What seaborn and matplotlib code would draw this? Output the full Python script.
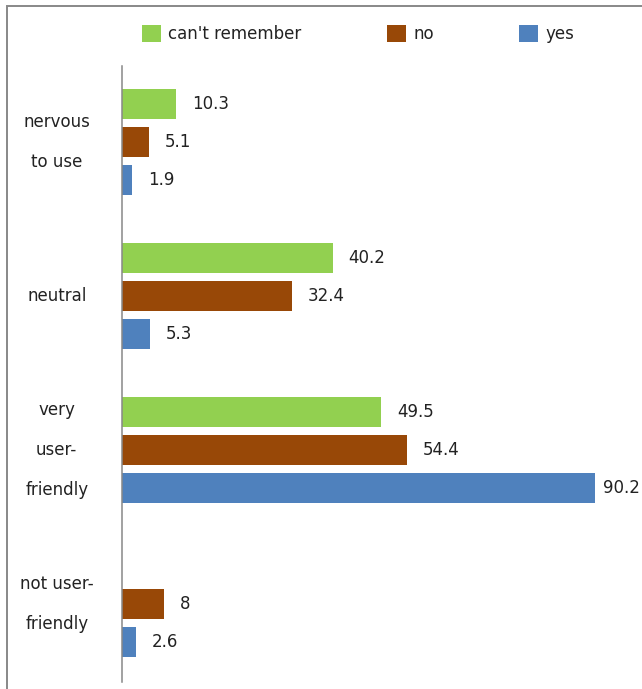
import numpy as np
import pandas as pd
import matplotlib
matplotlib.use("Agg")
import matplotlib.pyplot as plt
import seaborn as sns
from matplotlib.patches import Rectangle

categories = ["nervous\nto use", "neutral", "very\nuser-\nfriendly", "not user-\nfriendly"]
series = ["can't remember", "no", "yes"]
cant_remember = [10.3, 40.2, 49.5, np.nan]
no_vals = [5.1, 32.4, 54.4, 8]
yes_vals = [1.9, 5.3, 90.2, 2.6]
colors = ["#92D050", "#984807", "#4F81BD"]

rows = []
for s, vals in zip(series, [cant_remember, no_vals, yes_vals]):
    for c, v in zip(categories, vals):
        rows.append({"category": c, "response": s, "value": v})
df = pd.DataFrame(rows)

sns.set_theme(style="white")
plt.rcParams["font.family"] = ["DejaVu Sans"]
FS = 12

fig = plt.figure(figsize=(6.42, 6.89), dpi=100)
ax = fig.add_axes([122/642, 1-682/689, 1-122/642, (682-66)/689])

sns.barplot(data=df, y="category", x="value", hue="response", order=categories,
            hue_order=series, palette=colors, orient="h", width=0.74, gap=0.21,
            linewidth=0, saturation=1, ax=ax, legend=True)

ax.set_xlim(0, 99.2)
ax.set_ylim(3.506, -0.494)
ax.set_xlabel("")
ax.set_ylabel("")
ax.set_xticks([])
for side in ["top", "right", "bottom"]:
    ax.spines[side].set_visible(False)
ax.spines["left"].set_color("#888888")
ax.spines["left"].set_linewidth(1.1)

ax.tick_params(axis="y", length=0, pad=47)
for lab in ax.get_yticklabels():
    lab.set_ha("center")
    lab.set_va("center")
    lab.set_multialignment("center")
    lab.set_linespacing(2.58)
    lab.set_fontsize(FS)
    lab.set_color("#222222")

for cont in ax.containers:
    for bar in cont:
        w = bar.get_width()
        if np.isnan(w) or w == 0:
            continue
        pad = 11.5 if w < 85 else 6
        ax.annotate(f"{w:g}", (w, bar.get_y() + bar.get_height()/2),
                    xytext=(pad, 0), textcoords="offset points",
                    va="center", ha="left", fontsize=FS, color="#222222",
                    annotation_clip=False)

handles, labels = ax.get_legend_handles_labels()
ax.get_legend().remove()
fig.legend(handles, labels, loc="center left", bbox_to_anchor=(142/642, 1-34/689),
           ncol=3, frameon=False, fontsize=FS, handlelength=1.14, handleheight=1.14,
           handletextpad=0.45, columnspacing=5.1, borderpad=0, borderaxespad=0,
           labelcolor="#222222")

fig.patches.append(Rectangle((7/642, -0.2), 1.5, 1.2 - 6/689, transform=fig.transFigure,
                             fill=False, edgecolor="#888888", linewidth=1.4, figure=fig))

fig.savefig("out.png", dpi=100)
